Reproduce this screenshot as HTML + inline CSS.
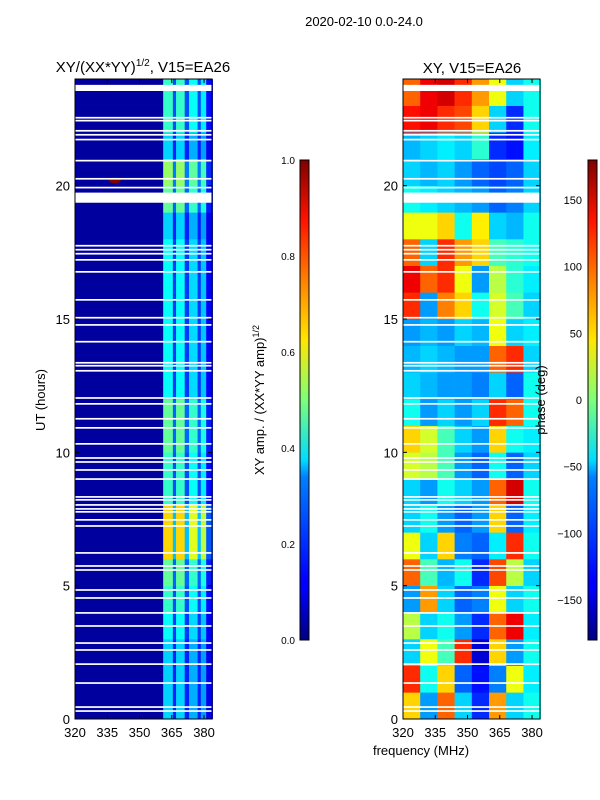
<!DOCTYPE html>
<html><head><meta charset="utf-8"><style>
body{margin:0;background:#fff;}
svg{display:block;font-family:"Liberation Sans",sans-serif;}
</style></head><body>
<svg id="fig" width="600" height="800" viewBox="0 0 600 800" xmlns="http://www.w3.org/2000/svg">
<defs>
<linearGradient id="jet" x1="0" y1="1" x2="0" y2="0">
<stop offset="0" stop-color="#00007f"/><stop offset="0.11" stop-color="#0000ff"/><stop offset="0.125" stop-color="#0000ff"/>
<stop offset="0.34" stop-color="#0080ff"/><stop offset="0.375" stop-color="#00dcff"/><stop offset="0.5" stop-color="#7dff7a"/>
<stop offset="0.625" stop-color="#ffe600"/><stop offset="0.75" stop-color="#ff8000"/><stop offset="0.875" stop-color="#ff1300"/><stop offset="1" stop-color="#7f0000"/>
</linearGradient>
</defs>
<text x="364" y="26" font-size="13" text-anchor="middle">2020-02-10 0.0-24.0</text>
<text x="143" y="72" font-size="15" text-anchor="middle">XY/(XX*YY)<tspan font-size="10" dy="-6">1/2</tspan><tspan dy="6">, V15=EA26</tspan></text>
<text x="472" y="73" font-size="15" text-anchor="middle">XY, V15=EA26</text>
<g id="left"></g>
<g id="right"></g>
<g id="axes"></g>
<text transform="translate(45,400) rotate(-90)" font-size="13" text-anchor="middle">UT (hours)</text>
<text x="421" y="755" font-size="13" text-anchor="middle">frequency (MHz)</text>
<rect x="300" y="160" width="9" height="480" fill="url(#jet)" stroke="#000" stroke-width="1"/>
<rect x="588" y="160" width="9" height="480" fill="url(#jet)" stroke="#000" stroke-width="1"/>
<text transform="translate(264,400) rotate(-90)" font-size="13" text-anchor="middle">XY amp. / (XX*YY amp)<tspan font-size="9" dy="-5">1/2</tspan></text>
<text transform="translate(545,400) rotate(-90)" font-size="13" text-anchor="middle">phase (deg)</text>
</svg>
<script>
const NS="http://www.w3.org/2000/svg";
// ---- data ----
const hours=[0,1,2,3,4,5,6,7,8,9,10,11,12,13,14,15,16,17,18,19,20,21,22,23];
const ampFreqEdges=[320,361,365.5,367,371,373,377,378.5,381,384];
const ampLevels=[0.35,0.35,0.35,0.4,0.45,0.5,0.7,0.7,0.45,0.45,0.5,0.5,0.4,0.4,0.4,0.4,0.4,0.4,0.35,0.5,0.55,0.35,0.45,0.45];
const ampProfile=[0.03,0.95,0.45,0.95,0.45,0.85,0.45,0.8,0.3];
const phaseFreqs=[320,328,336,344,352,360,368,376,384];
const phaseRows=[
[60,-80,100,-60,-120,80,-60,-40],[120,-40,60,-100,-130,-90,40,-50],[-60,40,-20,120,-150,60,-80,-40],
[20,-60,-40,-80,-120,100,140,-50],[-80,80,-60,-100,-90,40,-60,-40],[100,-20,-70,-40,-120,110,20,-60],
[40,-60,60,-90,-100,-50,120,-40],[-60,-40,-80,-100,-80,60,-100,-50],[-60,-80,-40,-60,-80,100,150,-40],
[30,20,-20,-80,-100,-40,-100,-60],[60,30,-20,-60,-80,60,-40,-50],[-40,-80,-60,-80,-60,120,100,-40],
[-60,-70,-80,-80,-90,-60,-100,-40],[-70,-60,-70,-80,-80,100,120,-60],[-80,-70,-80,-60,-70,40,-60,-50],
[120,-80,90,60,-40,30,-20,-60],[140,100,120,40,-80,20,-30,-50],[100,-60,120,80,60,-20,-30,-40],
[40,40,60,-40,50,-60,-70,-40],[-40,-50,-60,-70,-80,-100,-90,-60],[-60,-70,-60,-80,-100,-110,-100,-60],
[-70,-60,-50,-60,-30,-120,-130,-50],[130,140,120,110,60,-60,-120,-40],[100,140,150,120,80,40,-60,-40]];
const gapHours=[0.3,0.45,1.35,2.06,2.59,2.85,3.49,3.98,4.54,4.84,5.59,5.74,6.23,7.24,7.47,7.77,7.88,8.03,8.22,8.33,9.0,9.34,9.64,9.79,10.32,10.92,11.26,11.82,12.04,13.06,13.25,13.36,14.15,14.78,15.05,15.72,16.77,17.22,17.45,17.6,17.75,19.93,20.26,20.94,21.73,21.91,22.06,22.44,22.55];
const bigGaps=[[19.36,19.74],[23.55,23.78]];
const spot={hour:20.2,freq:338.5,value:1.0};
const xTicks=[320,335,350,365,380];
const yTicks=[0,5,10,15,20];
const ampTicks=[0.0,0.2,0.4,0.6,0.8,1.0];
const phaseTicks=[-150,-100,-50,0,50,100,150];
// ---- axes ----
const P1={x0:75,x1:212},P2={x0:403,x1:540},Y0=719,Y1=79;
const fx=(p,f)=>p.x0+(f-320)/(383.7-320)*(p.x1-p.x0);
const fy=h=>Y0-(h/24)*(Y0-Y1);
function jet(v){v=Math.max(0,Math.min(1,v));
 const r=Math.max(0,Math.min(1,Math.min(4*v-1.5,-4*v+4.5)));
 const g=Math.max(0,Math.min(1,Math.min(4*v-0.5,-4*v+3.5)));
 const b=Math.max(0,Math.min(1,Math.min(4*v+0.5,-4*v+2.5)));
 return `rgb(${r*255|0},${g*255|0},${b*255|0})`;}
function rect(g,x,y,w,h,fill){const r=document.createElementNS(NS,'rect');
 r.setAttribute('x',x);r.setAttribute('y',y);r.setAttribute('width',w);r.setAttribute('height',h);r.setAttribute('fill',fill);g.appendChild(r);return r;}
const L=document.getElementById('left'),R=document.getElementById('right'),A=document.getElementById('axes');
hours.forEach((h,i)=>{
 for(let j=0;j<ampProfile.length;j++){
  const v=j===0?ampProfile[0]:ampLevels[i]*ampProfile[j];
  const x=fx(P1,ampFreqEdges[j]),x2=fx(P1,ampFreqEdges[j+1]);
  const r=rect(L,x,fy(h+1),x2-x+0.3,fy(h)-fy(h+1)+0.3,jet(v));
  
  
 }
 phaseRows[i].forEach((v,j)=>{
  const x=fx(P2,phaseFreqs[j]),x2=fx(P2,phaseFreqs[j+1]);
  const r=rect(R,x,fy(h+1),x2-x+0.3,fy(h)-fy(h+1)+0.3,jet((v+180)/360));
  
  
 });
});
const sp=document.createElementNS(NS,'ellipse');
sp.setAttribute('cx',fx(P1,spot.freq));sp.setAttribute('cy',fy(spot.hour));sp.setAttribute('rx',6);sp.setAttribute('ry',3);sp.setAttribute('fill',jet(spot.value));


L.appendChild(sp);
[[L,P1],[R,P2]].forEach(([g,p])=>{
 gapHours.forEach(h=>{const r=rect(g,p.x0,fy(h)-0.8,p.x1-p.x0,1.7,'#fff');
  
  });
 bigGaps.forEach(([a,b])=>{const r=rect(g,p.x0,fy(b),p.x1-p.x0,fy(a)-fy(b),'#fff');
  
  });
});
function line(x1,y1,x2,y2,w){const l=document.createElementNS(NS,'line');
 l.setAttribute('x1',x1);l.setAttribute('y1',y1);l.setAttribute('x2',x2);l.setAttribute('y2',y2);l.setAttribute('stroke','#000');l.setAttribute('stroke-width',w||1);A.appendChild(l);return l;}
function text(x,y,s,anchor,size){const t=document.createElementNS(NS,'text');
 t.setAttribute('x',x);t.setAttribute('y',y);t.setAttribute('font-size',size);t.setAttribute('text-anchor',anchor);t.textContent=s;A.appendChild(t);return t;}
[P1,P2].forEach((p,k)=>{
 const fr=rect(A,p.x0,Y1,p.x1-p.x0,Y0-Y1,'none');fr.setAttribute('stroke','#000');
 
 
 xTicks.forEach(f=>{const x=fx(p,f);line(x,Y0,x,Y0-4);line(x,Y1,x,Y1+4);
  const t=text(x,737,String(f),'middle',13);
  
  });
 yTicks.forEach(h=>{const y=fy(h);line(p.x0,y,p.x0+4,y);line(p.x1,y,p.x1-4,y);
  const t=text(p.x0-5,y+5,String(h),'end',13);
  
  });
});
ampTicks.forEach(v=>{const y=640-v*480;line(300,y,304,y);line(309,y,305,y);
 const t=text(295,y+4,v.toFixed(1),'end',10);
 
 });
phaseTicks.forEach(v=>{const y=640-(v+180)/360*480;line(588,y,592,y);line(597,y,593,y);
 const t=text(582,y+4,v<0?'\u2212'+(-v):String(v),'end',11);
 
 });
</script>
</body></html>
